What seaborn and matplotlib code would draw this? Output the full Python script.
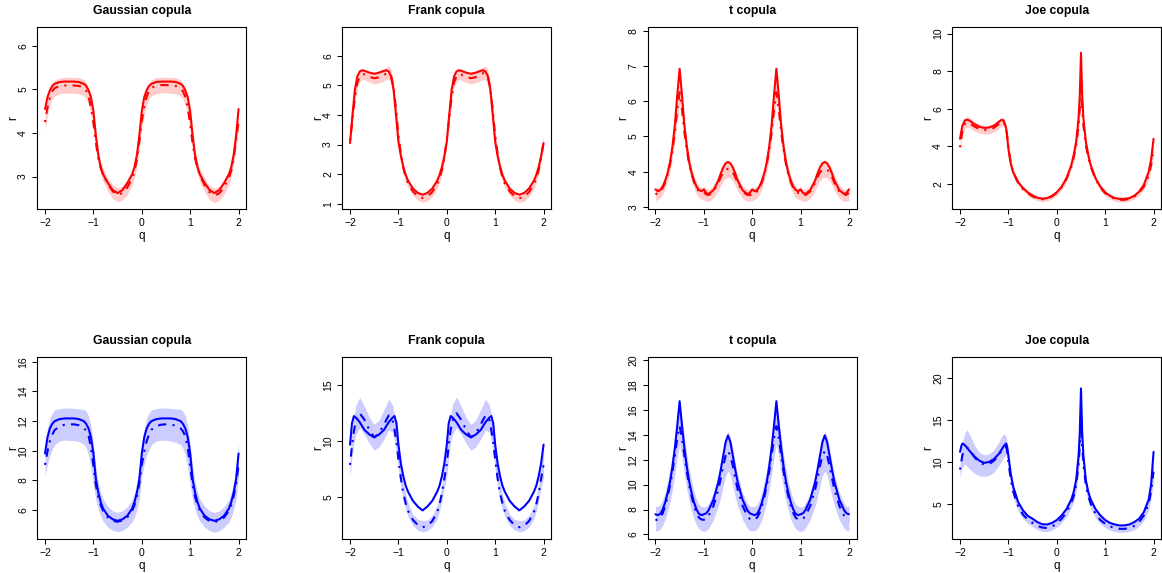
import matplotlib
matplotlib.use("Agg")
import matplotlib.pyplot as plt
import seaborn as sns

sns.set_theme(style="ticks", rc={
    "axes.edgecolor": "black", "axes.linewidth": 0.8,
    "xtick.color": "black", "ytick.color": "black",
    "text.color": "black", "axes.labelcolor": "black",
})
plt.rcParams['font.family'] = ['Liberation Sans', 'DejaVu Sans']

# ---------------- Gaussian copula ----------------
q_gauss = [-2.0, -1.95, -1.9, -1.85, -1.8, -1.7, -1.6, -1.5, -1.4, -1.3, -1.2, -1.15, -1.1, -1.05,
           -1.0, -0.95, -0.9, -0.85, -0.8, -0.7, -0.6, -0.5, -0.4, -0.3, -0.2, -0.15, -0.1, -0.05,
           0.0, 0.05, 0.1, 0.15, 0.2, 0.3, 0.4, 0.5, 0.6, 0.7, 0.8, 0.85, 0.9, 0.95,
           1.0, 1.05, 1.1, 1.15, 1.2, 1.3, 1.4, 1.5, 1.6, 1.7, 1.8, 1.85, 1.9, 1.95, 2.0]

gauss_top_true = [4.55, 4.82, 4.98, 5.08, 5.13, 5.17, 5.18, 5.18, 5.18, 5.17, 5.13, 5.08, 4.98, 4.82,
                  4.50, 3.95, 3.50, 3.22, 3.05, 2.85, 2.69, 2.62, 2.69, 2.85, 3.05, 3.22, 3.50, 3.95,
                  4.50, 4.82, 4.98, 5.08, 5.13, 5.17, 5.18, 5.18, 5.18, 5.17, 5.13, 5.08, 4.98, 4.82,
                  4.50, 3.95, 3.50, 3.22, 3.05, 2.85, 2.69, 2.62, 2.69, 2.85, 3.05, 3.22, 3.50, 3.95, 4.55]
gauss_top_est = [4.25, 4.58, 4.82, 4.96, 5.03, 5.08, 5.09, 5.10, 5.09, 5.08, 5.04, 4.97, 4.84, 4.58,
                 4.22, 3.78, 3.42, 3.20, 3.04, 2.82, 2.66, 2.58, 2.62, 2.75, 2.96, 3.13, 3.40, 3.82,
                 4.28, 4.60, 4.83, 4.97, 5.04, 5.08, 5.10, 5.10, 5.09, 5.08, 5.03, 4.96, 4.83, 4.57,
                 4.20, 3.76, 3.42, 3.20, 3.03, 2.80, 2.64, 2.57, 2.61, 2.75, 2.97, 3.14, 3.42, 3.84, 4.26]
gauss_top_lo = [4.07, 4.40, 4.64, 4.78, 4.85, 4.90, 4.91, 4.92, 4.91, 4.90, 4.86, 4.79, 4.66, 4.40,
                4.05, 3.62, 3.28, 3.06, 2.89, 2.66, 2.49, 2.42, 2.46, 2.59, 2.80, 2.98, 3.25, 3.66,
                4.10, 4.42, 4.65, 4.79, 4.86, 4.90, 4.92, 4.92, 4.91, 4.90, 4.85, 4.78, 4.65, 4.39,
                4.03, 3.60, 3.28, 3.06, 2.88, 2.64, 2.47, 2.40, 2.45, 2.59, 2.81, 2.99, 3.27, 3.68, 4.08]
gauss_top_hi = [4.45, 4.78, 5.02, 5.15, 5.21, 5.26, 5.28, 5.28, 5.28, 5.27, 5.23, 5.16, 5.03, 4.78,
                4.42, 3.95, 3.58, 3.35, 3.19, 2.97, 2.81, 2.74, 2.78, 2.91, 3.12, 3.29, 3.57, 4.00,
                4.46, 4.80, 5.02, 5.15, 5.22, 5.27, 5.28, 5.28, 5.28, 5.27, 5.22, 5.15, 5.02, 4.76,
                4.40, 3.93, 3.58, 3.35, 3.18, 2.96, 2.80, 2.73, 2.77, 2.91, 3.13, 3.30, 3.58, 4.02, 4.45]

gauss_bot_true = [9.82, 10.90, 11.50, 11.82, 12.00, 12.13, 12.18, 12.18, 12.18, 12.13, 12.00, 11.82, 11.50, 10.90,
                  9.82, 8.10, 7.20, 6.55, 6.10, 5.62, 5.38, 5.28, 5.38, 5.62, 6.10, 6.55, 7.20, 8.10,
                  9.82, 10.90, 11.50, 11.82, 12.00, 12.13, 12.18, 12.18, 12.18, 12.13, 12.00, 11.82, 11.50, 10.90,
                  9.82, 8.10, 7.20, 6.55, 6.10, 5.62, 5.38, 5.28, 5.38, 5.62, 6.10, 6.55, 7.20, 8.10, 9.82]
gauss_bot_est = [9.05, 9.95, 10.65, 11.10, 11.40, 11.65, 11.75, 11.78, 11.78, 11.72, 11.55, 11.35, 11.00, 10.20,
                 9.00, 7.70, 6.90, 6.35, 5.95, 5.50, 5.28, 5.22, 5.30, 5.52, 5.95, 6.35, 6.95, 7.80,
                 9.05, 9.95, 10.65, 11.10, 11.42, 11.66, 11.76, 11.78, 11.76, 11.70, 11.52, 11.32, 10.98, 10.20,
                 9.00, 7.70, 6.90, 6.35, 5.95, 5.50, 5.26, 5.20, 5.28, 5.50, 5.95, 6.35, 6.95, 7.80, 9.00]
gauss_bot_lo = [8.30, 9.10, 9.70, 10.10, 10.40, 10.65, 10.72, 10.70, 10.68, 10.62, 10.45, 10.20, 9.70, 8.80,
                7.70, 6.70, 6.05, 5.60, 5.25, 4.85, 4.62, 4.55, 4.62, 4.85, 5.20, 5.55, 6.05, 6.80,
                8.30, 9.10, 9.70, 10.10, 10.42, 10.66, 10.72, 10.70, 10.66, 10.58, 10.42, 10.18, 9.70, 8.80,
                7.70, 6.70, 6.05, 5.60, 5.25, 4.85, 4.60, 4.52, 4.60, 4.85, 5.20, 5.55, 6.05, 6.80, 8.30]
gauss_bot_hi = [10.50, 11.50, 12.20, 12.55, 12.75, 12.85, 12.88, 12.88, 12.85, 12.82, 12.80, 12.65, 12.35, 11.70,
                10.40, 8.90, 7.90, 7.20, 6.75, 6.25, 5.95, 5.85, 5.95, 6.22, 6.70, 7.20, 7.90, 8.95,
                10.50, 11.50, 12.20, 12.55, 12.75, 12.85, 12.88, 12.88, 12.85, 12.82, 12.80, 12.65, 12.35, 11.70,
                10.40, 8.90, 7.90, 7.20, 6.75, 6.25, 5.95, 5.85, 5.95, 6.22, 6.70, 7.20, 7.90, 8.95, 10.50]

# ---------------- Frank copula ----------------
q_frank_top = [-2.0, -1.95, -1.9, -1.85, -1.8, -1.75, -1.7, -1.6, -1.5, -1.4, -1.3, -1.25, -1.2, -1.15, -1.1,
               -1.05, -1.0, -0.95, -0.9, -0.85, -0.8, -0.7, -0.6, -0.5, -0.4, -0.3, -0.2, -0.15, -0.1, -0.05,
               0.0, 0.05, 0.1, 0.15, 0.2, 0.25, 0.3, 0.4, 0.5, 0.6, 0.7, 0.75, 0.8, 0.85, 0.9,
               0.95, 1.0, 1.05, 1.1, 1.15, 1.2, 1.3, 1.4, 1.5, 1.6, 1.7, 1.8, 1.85, 1.9, 1.95, 2.0]

frank_top_true = [3.05, 4.00, 4.85, 5.30, 5.47, 5.51, 5.49, 5.43, 5.39, 5.43, 5.49, 5.51, 5.47, 5.30, 4.85,
                  4.00, 3.10, 2.62, 2.25, 1.98, 1.78, 1.52, 1.37, 1.31, 1.37, 1.52, 1.78, 1.98, 2.25, 2.62,
                  3.10, 4.00, 4.85, 5.30, 5.47, 5.51, 5.49, 5.43, 5.39, 5.43, 5.49, 5.51, 5.47, 5.30, 4.85,
                  4.00, 3.10, 2.62, 2.25, 1.98, 1.78, 1.52, 1.37, 1.31, 1.37, 1.52, 1.78, 1.98, 2.25, 2.62, 3.05]
frank_top_est = [3.15, 3.85, 4.60, 5.08, 5.30, 5.38, 5.37, 5.29, 5.24, 5.27, 5.35, 5.40, 5.41, 5.30, 4.92,
                 4.20, 3.30, 2.70, 2.22, 1.90, 1.68, 1.42, 1.26, 1.20, 1.25, 1.40, 1.66, 1.86, 2.15, 2.55,
                 3.20, 3.88, 4.62, 5.10, 5.31, 5.38, 5.36, 5.28, 5.24, 5.28, 5.36, 5.41, 5.41, 5.29, 4.90,
                 4.18, 3.30, 2.70, 2.22, 1.90, 1.68, 1.42, 1.26, 1.19, 1.24, 1.40, 1.66, 1.86, 2.15, 2.55, 3.10]
frank_top_lo = [2.95, 3.65, 4.40, 4.90, 5.12, 5.20, 5.18, 5.10, 5.05, 5.08, 5.15, 5.20, 5.20, 5.08, 4.70,
                4.00, 3.12, 2.55, 2.08, 1.76, 1.55, 1.28, 1.12, 1.06, 1.10, 1.25, 1.50, 1.72, 2.00, 2.40,
                3.00, 3.68, 4.42, 4.92, 5.12, 5.20, 5.17, 5.09, 5.05, 5.09, 5.16, 5.20, 5.20, 5.07, 4.68,
                3.98, 3.12, 2.55, 2.08, 1.76, 1.55, 1.28, 1.12, 1.05, 1.09, 1.25, 1.50, 1.72, 2.00, 2.40, 2.92]
frank_top_hi = [3.40, 4.10, 4.85, 5.30, 5.50, 5.56, 5.53, 5.45, 5.40, 5.45, 5.55, 5.62, 5.66, 5.52, 5.12,
                4.40, 3.50, 2.88, 2.38, 2.05, 1.82, 1.56, 1.40, 1.34, 1.40, 1.56, 1.82, 2.02, 2.32, 2.72,
                3.45, 4.12, 4.86, 5.31, 5.52, 5.57, 5.53, 5.45, 5.41, 5.46, 5.56, 5.63, 5.66, 5.51, 5.10,
                4.38, 3.50, 2.88, 2.38, 2.05, 1.82, 1.56, 1.40, 1.33, 1.39, 1.56, 1.82, 2.02, 2.32, 2.72, 3.38]

q_frank_bot = [-2.0, -1.96, -1.92, -1.88, -1.8, -1.7, -1.6, -1.5, -1.4, -1.3, -1.2, -1.12, -1.08, -1.04,
               -1.0, -0.95, -0.9, -0.85, -0.8, -0.7, -0.6, -0.5, -0.4, -0.3, -0.2, -0.15, -0.1, -0.05,
               0.0, 0.04, 0.08, 0.12, 0.2, 0.3, 0.4, 0.5, 0.6, 0.7, 0.8, 0.88, 0.92, 0.96,
               1.0, 1.05, 1.1, 1.15, 1.2, 1.3, 1.4, 1.5, 1.6, 1.7, 1.8, 1.85, 1.9, 1.95, 2.0]

frank_bot_true = [9.70, 11.60, 12.24, 12.10, 11.70, 11.00, 10.60, 10.35, 10.60, 11.00, 11.70, 12.10, 12.24, 11.60,
                  9.70, 8.05, 6.90, 6.05, 5.50, 4.70, 4.20, 3.85, 4.20, 4.70, 5.50, 6.05, 6.90, 8.05,
                  9.70, 11.60, 12.24, 12.10, 11.70, 11.00, 10.60, 10.35, 10.60, 11.00, 11.70, 12.10, 12.24, 11.60,
                  9.70, 8.05, 6.90, 6.05, 5.50, 4.70, 4.20, 3.85, 4.20, 4.70, 5.50, 6.05, 6.90, 8.05, 9.70]
frank_bot_est = [7.90, 9.60, 10.90, 11.80, 12.50, 11.90, 11.00, 10.35, 10.70, 11.50, 12.30, 11.90, 11.00, 9.90,
                 8.40, 6.70, 5.40, 4.50, 3.80, 3.00, 2.55, 2.35, 2.50, 2.90, 3.70, 4.40, 5.40, 6.70,
                 8.00, 9.70, 11.00, 11.85, 12.50, 11.90, 11.00, 10.35, 10.70, 11.50, 12.30, 11.90, 11.00, 9.90,
                 8.40, 6.70, 5.40, 4.50, 3.80, 3.00, 2.55, 2.35, 2.50, 2.90, 3.70, 4.40, 5.40, 6.70, 7.90]
frank_bot_lo = [6.80, 8.60, 9.80, 10.60, 11.20, 10.60, 9.80, 9.20, 9.50, 10.20, 11.00, 10.80, 10.00, 8.90,
                7.50, 5.90, 4.70, 3.90, 3.30, 2.50, 2.10, 1.95, 2.05, 2.40, 3.10, 3.80, 4.70, 5.90,
                6.90, 8.70, 9.90, 10.65, 11.20, 10.60, 9.80, 9.20, 9.50, 10.20, 11.00, 10.80, 10.00, 8.90,
                7.50, 5.90, 4.70, 3.90, 3.30, 2.50, 2.10, 1.95, 2.05, 2.40, 3.10, 3.80, 4.70, 5.90, 6.80]
frank_bot_hi = [9.20, 10.80, 12.20, 13.20, 13.90, 13.10, 12.10, 11.50, 11.90, 12.80, 13.75, 13.20, 12.40, 11.20,
                9.60, 7.60, 6.30, 5.30, 4.50, 3.50, 3.05, 2.95, 3.00, 3.40, 4.30, 5.00, 6.20, 7.70,
                9.30, 10.90, 12.30, 13.30, 13.95, 13.10, 12.10, 11.50, 11.90, 12.80, 13.75, 13.20, 12.40, 11.20,
                9.60, 7.60, 6.30, 5.30, 4.50, 3.50, 3.05, 2.95, 3.00, 3.40, 4.30, 5.00, 6.20, 7.70, 9.40]

# ---------------- t copula ----------------
q_t = [-2.0, -1.95, -1.9, -1.85, -1.8, -1.75, -1.7, -1.65, -1.6, -1.55, -1.5, -1.45, -1.4, -1.35, -1.3, -1.25, -1.2, -1.15,
       -1.1, -1.05, -1.0, -0.95, -0.9, -0.8, -0.7, -0.65, -0.6, -0.55, -0.5, -0.45, -0.4, -0.35, -0.3, -0.2, -0.1, -0.05,
       0.0, 0.05, 0.1, 0.15, 0.2, 0.25, 0.3, 0.35, 0.4, 0.45, 0.5, 0.55, 0.6, 0.65, 0.7, 0.75, 0.8, 0.85,
       0.9, 0.95, 1.0, 1.05, 1.1, 1.2, 1.3, 1.35, 1.4, 1.45, 1.5, 1.55, 1.6, 1.65, 1.7, 1.8, 1.9, 1.95, 2.0]

t_top_true = [3.50, 3.45, 3.48, 3.58, 3.74, 3.96, 4.26, 4.70, 5.30, 6.15, 6.92, 6.15, 5.30, 4.70, 4.26, 3.96, 3.74, 3.58,
              3.48, 3.45, 3.50, 3.40, 3.37, 3.48, 3.75, 3.95, 4.12, 4.24, 4.28, 4.24, 4.12, 3.95, 3.75, 3.48, 3.37, 3.40,
              3.50, 3.45, 3.48, 3.58, 3.74, 3.96, 4.26, 4.70, 5.30, 6.15, 6.92, 6.15, 5.30, 4.70, 4.26, 3.96, 3.74, 3.58,
              3.48, 3.45, 3.50, 3.40, 3.37, 3.48, 3.75, 3.95, 4.12, 4.24, 4.28, 4.24, 4.12, 3.95, 3.75, 3.48, 3.37, 3.40, 3.50]
t_top_est = [3.36, 3.40, 3.44, 3.54, 3.70, 3.92, 4.20, 4.60, 5.10, 5.75, 6.25, 5.75, 5.10, 4.60, 4.20, 3.92, 3.70, 3.54,
             3.44, 3.40, 3.42, 3.36, 3.34, 3.44, 3.68, 3.85, 3.98, 4.06, 4.08, 4.06, 3.98, 3.85, 3.68, 3.44, 3.34, 3.35,
             3.32, 3.40, 3.44, 3.54, 3.70, 3.92, 4.20, 4.60, 5.10, 5.75, 6.25, 5.75, 5.10, 4.60, 4.20, 3.92, 3.70, 3.54,
             3.44, 3.40, 3.42, 3.36, 3.34, 3.44, 3.68, 3.85, 3.98, 4.06, 4.08, 4.06, 3.98, 3.85, 3.68, 3.44, 3.34, 3.35, 3.40]
t_top_lo = [3.18, 3.22, 3.26, 3.36, 3.52, 3.72, 4.00, 4.38, 4.85, 5.45, 5.95, 5.45, 4.85, 4.38, 4.00, 3.72, 3.52, 3.36,
            3.26, 3.22, 3.20, 3.17, 3.16, 3.25, 3.46, 3.62, 3.74, 3.82, 3.85, 3.82, 3.74, 3.62, 3.46, 3.25, 3.16, 3.17,
            3.18, 3.22, 3.26, 3.36, 3.52, 3.72, 4.00, 4.38, 4.85, 5.45, 5.95, 5.45, 4.85, 4.38, 4.00, 3.72, 3.52, 3.36,
            3.26, 3.22, 3.20, 3.17, 3.16, 3.25, 3.46, 3.62, 3.74, 3.82, 3.85, 3.82, 3.74, 3.62, 3.46, 3.25, 3.16, 3.17, 3.18]
t_top_hi = [3.55, 3.55, 3.60, 3.70, 3.88, 4.12, 4.42, 4.85, 5.40, 6.10, 6.65, 6.10, 5.40, 4.85, 4.42, 4.12, 3.88, 3.70,
            3.60, 3.55, 3.58, 3.52, 3.50, 3.62, 3.88, 4.05, 4.18, 4.26, 4.30, 4.26, 4.18, 4.05, 3.88, 3.62, 3.50, 3.52,
            3.55, 3.55, 3.60, 3.70, 3.88, 4.12, 4.42, 4.85, 5.40, 6.10, 6.65, 6.10, 5.40, 4.85, 4.42, 4.12, 3.88, 3.70,
            3.60, 3.55, 3.58, 3.52, 3.50, 3.62, 3.88, 4.05, 4.18, 4.26, 4.30, 4.26, 4.18, 4.05, 3.88, 3.62, 3.50, 3.52, 3.55]

t_bot_true = [7.62, 7.55, 7.65, 8.00, 8.55, 9.30, 10.20, 11.40, 12.90, 14.70, 16.70, 14.70, 12.90, 11.40, 10.20, 9.30, 8.55, 8.00,
              7.65, 7.55, 7.62, 7.70, 7.95, 8.80, 10.20, 11.20, 12.30, 13.40, 13.95, 13.40, 12.30, 11.20, 10.20, 8.80, 7.95, 7.70,
              7.62, 7.55, 7.65, 8.00, 8.55, 9.30, 10.20, 11.40, 12.90, 14.70, 16.70, 14.70, 12.90, 11.40, 10.20, 9.30, 8.55, 8.00,
              7.65, 7.55, 7.62, 7.70, 7.95, 8.80, 10.20, 11.20, 12.30, 13.40, 13.95, 13.40, 12.30, 11.20, 10.20, 8.80, 7.95, 7.70, 7.62]
t_bot_est = [7.15, 7.20, 7.35, 7.70, 8.25, 9.00, 9.90, 11.00, 12.30, 13.70, 14.70, 13.70, 12.30, 11.00, 9.90, 9.00, 8.25, 7.70,
             7.35, 7.20, 7.18, 7.25, 7.50, 8.30, 9.60, 10.50, 11.50, 12.30, 12.70, 12.30, 11.50, 10.50, 9.60, 8.30, 7.50, 7.25,
             7.15, 7.20, 7.35, 7.70, 8.25, 9.00, 9.90, 11.00, 12.30, 13.70, 14.70, 13.70, 12.30, 11.00, 9.90, 9.00, 8.25, 7.70,
             7.35, 7.20, 7.18, 7.25, 7.50, 8.30, 9.60, 10.50, 11.50, 12.30, 12.70, 12.30, 11.50, 10.50, 9.60, 8.30, 7.50, 7.25, 7.15]
t_bot_lo = [6.30, 6.30, 6.45, 6.75, 7.20, 7.85, 8.60, 9.60, 10.80, 12.20, 13.30, 12.20, 10.80, 9.60, 8.60, 7.85, 7.20, 6.75,
            6.45, 6.30, 6.25, 6.30, 6.50, 7.20, 8.30, 9.00, 9.90, 10.70, 11.10, 10.70, 9.90, 9.00, 8.30, 7.20, 6.50, 6.30,
            6.30, 6.30, 6.45, 6.75, 7.20, 7.85, 8.60, 9.60, 10.80, 12.20, 13.30, 12.20, 10.80, 9.60, 8.60, 7.85, 7.20, 6.75,
            6.45, 6.30, 6.25, 6.30, 6.50, 7.20, 8.30, 9.00, 9.90, 10.70, 11.10, 10.70, 9.90, 9.00, 8.30, 7.20, 6.50, 6.30, 6.30]
t_bot_hi = [8.25, 8.25, 8.40, 8.80, 9.40, 10.20, 11.20, 12.40, 13.80, 15.30, 16.40, 15.30, 13.80, 12.40, 11.20, 10.20, 9.40, 8.80,
            8.40, 8.25, 8.20, 8.25, 8.50, 9.35, 10.80, 11.80, 12.90, 13.80, 14.30, 13.80, 12.90, 11.80, 10.80, 9.35, 8.50, 8.25,
            8.25, 8.25, 8.40, 8.80, 9.40, 10.20, 11.20, 12.40, 13.80, 15.30, 16.40, 15.30, 13.80, 12.40, 11.20, 10.20, 9.40, 8.80,
            8.40, 8.25, 8.20, 8.25, 8.50, 9.35, 10.80, 11.80, 12.90, 13.80, 14.30, 13.80, 12.90, 11.80, 10.80, 9.35, 8.50, 8.25, 8.25]

# ---------------- Joe copula ----------------
q_joe = [-2.0, -1.97, -1.95, -1.9, -1.85, -1.8, -1.7, -1.6, -1.5, -1.4, -1.3,
         -1.2, -1.15, -1.1, -1.05, -1.03, -1.0, -0.95, -0.9, -0.8, -0.7, -0.6,
         -0.5, -0.4, -0.3, -0.2, -0.1, 0.0, 0.1, 0.2, 0.3, 0.35, 0.4,
         0.45, 0.475, 0.5, 0.525, 0.55, 0.6, 0.65, 0.7, 0.8, 0.9, 1.0,
         1.1, 1.2, 1.3, 1.4, 1.5, 1.6, 1.7, 1.8, 1.9, 1.95, 2.0]

joe_top_true = [4.40, 4.85, 5.10, 5.38, 5.42, 5.36, 5.18, 5.04, 4.98, 5.00, 5.10,
                5.30, 5.40, 5.38, 5.00, 4.60, 3.85, 3.05, 2.60, 2.10, 1.78, 1.55,
                1.38, 1.26, 1.21, 1.24, 1.36, 1.55, 1.85, 2.30, 3.00, 3.55, 4.25,
                5.50, 6.70, 8.98, 6.70, 5.50, 4.25, 3.55, 3.00, 2.30, 1.85, 1.55,
                1.36, 1.24, 1.20, 1.20, 1.24, 1.36, 1.58, 1.95, 2.65, 3.30, 4.40]
joe_top_est = [3.95, 4.50, 4.85, 5.20, 5.28, 5.22, 5.05, 4.92, 4.86, 4.88, 4.98,
               5.18, 5.30, 5.30, 5.00, 4.65, 3.95, 3.10, 2.60, 2.05, 1.72, 1.50,
               1.33, 1.22, 1.18, 1.21, 1.33, 1.52, 1.82, 2.26, 2.92, 3.42, 4.05,
               5.10, 6.00, 7.30, 6.00, 5.10, 4.05, 3.42, 2.92, 2.25, 1.80, 1.50,
               1.32, 1.20, 1.15, 1.15, 1.20, 1.32, 1.52, 1.85, 2.45, 3.00, 3.90]
joe_top_lo = [3.80, 4.30, 4.60, 4.95, 5.05, 4.98, 4.80, 4.70, 4.65, 4.67, 4.75,
              4.95, 5.08, 5.10, 4.80, 4.45, 3.75, 2.95, 2.45, 1.93, 1.60, 1.38,
              1.22, 1.10, 1.06, 1.08, 1.20, 1.38, 1.68, 2.10, 2.74, 3.20, 3.80,
              4.75, 5.55, 6.60, 5.55, 4.75, 3.80, 3.20, 2.74, 2.10, 1.66, 1.37,
              1.20, 1.08, 1.03, 1.03, 1.08, 1.20, 1.38, 1.70, 2.25, 2.78, 3.60]
joe_top_hi = [4.20, 4.75, 5.10, 5.50, 5.62, 5.50, 5.32, 5.18, 5.10, 5.12, 5.22,
              5.42, 5.55, 5.52, 5.22, 4.85, 4.15, 3.30, 2.78, 2.20, 1.86, 1.62,
              1.45, 1.34, 1.30, 1.33, 1.46, 1.66, 1.98, 2.44, 3.12, 3.65, 4.32,
              5.45, 6.50, 8.00, 6.50, 5.45, 4.32, 3.65, 3.12, 2.42, 1.96, 1.64,
              1.45, 1.32, 1.28, 1.28, 1.33, 1.45, 1.68, 2.02, 2.68, 3.25, 4.20]

joe_bot_true = [11.25, 12.00, 12.25, 12.05, 11.70, 11.35, 10.70, 10.20, 9.95, 10.05, 10.40,
                11.00, 11.45, 11.90, 12.25, 12.00, 10.80, 8.60, 7.10, 5.30, 4.30, 3.65,
                3.30, 2.90, 2.65, 2.62, 2.80, 3.15, 3.70, 4.45, 5.60, 6.50, 7.90,
                10.80, 13.50, 18.80, 13.50, 10.80, 7.90, 6.50, 5.60, 4.45, 3.70, 3.15,
                2.80, 2.62, 2.50, 2.52, 2.62, 2.90, 3.30, 4.10, 5.60, 7.40, 11.25]
joe_bot_est = [9.15, 10.20, 10.90, 11.60, 11.75, 11.45, 10.60, 10.00, 9.75, 9.80, 10.20,
               10.85, 11.30, 11.70, 11.90, 11.50, 10.00, 7.90, 6.50, 4.80, 3.80, 3.20,
               2.80, 2.45, 2.25, 2.20, 2.35, 2.75, 3.30, 4.05, 5.20, 6.00, 7.30,
               9.80, 12.00, 15.00, 12.00, 9.80, 7.30, 6.00, 5.10, 3.90, 3.15, 2.70,
               2.40, 2.20, 2.10, 2.10, 2.20, 2.45, 2.90, 3.70, 5.10, 6.60, 8.90]
joe_bot_lo = [8.30, 9.00, 9.50, 9.80, 9.50, 9.20, 8.70, 8.40, 8.35, 8.45, 8.85,
              9.60, 10.10, 10.60, 10.90, 10.60, 9.20, 7.20, 5.90, 4.20, 3.30, 2.75,
              2.35, 2.00, 1.80, 1.78, 1.95, 2.30, 2.85, 3.55, 4.60, 5.40, 6.60,
              8.80, 10.80, 13.20, 10.80, 8.80, 6.60, 5.40, 4.50, 3.40, 2.70, 2.25,
              1.95, 1.78, 1.70, 1.70, 1.78, 2.00, 2.40, 3.10, 4.40, 5.80, 7.90]
joe_bot_hi = [10.50, 11.60, 12.40, 13.50, 13.90, 13.30, 12.00, 11.20, 10.90, 11.00, 11.50,
              12.40, 13.00, 13.40, 13.10, 12.60, 11.00, 8.70, 7.20, 5.40, 4.30, 3.65,
              3.25, 2.90, 2.70, 2.65, 2.80, 3.20, 3.80, 4.60, 5.85, 6.70, 8.10,
              10.90, 13.30, 16.80, 13.30, 10.90, 8.10, 6.70, 5.75, 4.45, 3.60, 3.15,
              2.85, 2.65, 2.55, 2.55, 2.65, 2.95, 3.45, 4.35, 5.90, 7.50, 10.80]

titles = ["Gaussian copula", "Frank copula", "t copula", "Joe copula"]

panels = [
    (0, 0, q_gauss, gauss_top_true, gauss_top_est, gauss_top_lo, gauss_top_hi, (2.25, 6.44), [3, 4, 5, 6]),
    (0, 1, q_frank_top, frank_top_true, frank_top_est, frank_top_lo, frank_top_hi, (0.82, 6.98), [1, 2, 3, 4, 5, 6]),
    (0, 2, q_t, t_top_true, t_top_est, t_top_lo, t_top_hi, (2.94, 8.11), [3, 4, 5, 6, 7, 8]),
    (0, 3, q_joe, joe_top_true, joe_top_est, joe_top_lo, joe_top_hi, (0.65, 10.37), [2, 4, 6, 8, 10]),
    (1, 0, q_gauss, gauss_bot_true, gauss_bot_est, gauss_bot_lo, gauss_bot_hi, (4.04, 16.34), [6, 8, 10, 12, 14, 16]),
    (1, 1, q_frank_bot, frank_bot_true, frank_bot_est, frank_bot_lo, frank_bot_hi, (1.29, 17.52), [5, 10, 15]),
    (1, 2, q_t, t_bot_true, t_bot_est, t_bot_lo, t_bot_hi, (5.62, 20.27), [6, 8, 10, 12, 14, 16, 18, 20]),
    (1, 3, q_joe, joe_bot_true, joe_bot_est, joe_bot_lo, joe_bot_hi, (0.87, 22.57), [5, 10, 15, 20]),
]

line_cols = ["#FF0000", "#0000FF"]
band_cols = ["#FFCCCC", "#CCCCFF"]

W, H = 1162, 573
fig = plt.figure(figsize=(W / 100, H / 100), dpi=100)
lefts = [37.3, 342.3, 647.7, 952.3]
tops = [26.7, 356.7]
bw, bh = 209, 182.5

for row, col, q, tr, es, lo, hi, ylim, yt in panels:
    ax = fig.add_axes([lefts[col] / W, 1 - (tops[row] + bh) / H, bw / W, bh / H])
    ax.fill_between(q, lo, hi, color=band_cols[row], lw=0)
    sns.lineplot(x=q, y=tr, ax=ax, color=line_cols[row], lw=1.5, estimator=None, sort=False)
    sns.lineplot(x=q, y=es, ax=ax, color=line_cols[row], lw=1.5, estimator=None, sort=False,
                 linestyle=(0, (1, 3, 4, 3)))
    ax.set_xlim(-2.16, 2.16)
    ax.set_ylim(*ylim)
    ax.set_xticks([-2, -1, 0, 1, 2])
    ax.set_yticks(yt)
    ax.tick_params(length=3.6, width=0.75, labelsize=7.5, pad=3)
    ax.tick_params(axis='y', labelrotation=90)
    for lbl in ax.get_yticklabels():
        lbl.set_va('center')
    for s in ax.spines.values():
        s.set_visible(True)
        s.set_linewidth(0.8)
    ax.set_xlabel("q", fontsize=8.5, labelpad=1.2)
    ax.set_ylabel("r", fontsize=8.5, labelpad=-0.5)
    ax.set_title(titles[col], fontsize=8.8, fontweight='bold', pad=9)

fig.savefig("out.png", dpi=100)
